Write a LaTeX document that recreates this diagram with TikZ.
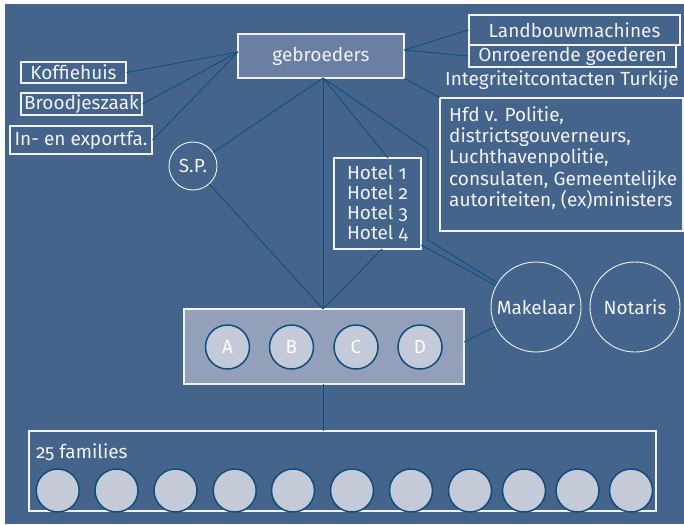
\documentclass[tikz,border=0pt]{standalone}
\usepackage{fontspec}
\setmainfont{Fira Sans}[RawFeature=+onum]
\definecolor{bgblue}{HTML}{44648C}
\definecolor{gebfill}{HTML}{6A7FA3}
\definecolor{abfill}{HTML}{93A0B9}
\definecolor{dotfill}{HTML}{C5CAD9}
\definecolor{conn}{HTML}{0E5082}
\definecolor{ring}{HTML}{0D4E7E}
\definecolor{txt}{HTML}{F2F2F2}
\tikzset{
  wbox/.style={draw=txt, line width=1.1pt, text=txt, inner sep=0pt, rectangle},
  wcirc/.style={draw=txt, line width=0.9pt, text=txt, inner sep=0pt, circle},
  dot/.style={circle, fill=dotfill, draw=ring, line width=1.5pt, minimum size=43pt, inner sep=0pt, text=white},
  lbl/.style={text=txt, inner sep=0pt},
  cn/.style={draw=conn, line width=0.9pt},
}
\begin{document}
\begin{tikzpicture}[x=1pt,y=-1pt, font=\fontsize{19}{21.4}\selectfont]
\useasboundingbox (0,0) rectangle (684,524);
\fill[white] (0,0) rectangle (684,524);
\fill[bgblue] (5,4) rectangle (684,524);
% top
\node[wbox, fill=gebfill, minimum width=166pt, minimum height=44pt] (geb) at (321,56) {gebroeders};
\node[wbox, minimum width=105pt, minimum height=21pt] (kof) at (73.5,72.5) {Koffiehuis};
\node[wbox, minimum width=121pt, minimum height=22pt] (bro) at (81.5,104) {Broodjeszaak};
\node[wbox, minimum width=142pt, minimum height=28pt] (exp) at (81,140) {In- en exportfa.};
\node[wbox, minimum width=211pt, minimum height=30pt] (lan) at (574.5,30) {Landbouwmachines};
\node[wbox, minimum width=207pt, minimum height=22pt] (onr) at (572.5,56) {Onroerende goederen};
\node[lbl, anchor=west] (int) at (445,80) {Integriteitcontacten Turkije};
\node[wbox, minimum width=243pt, minimum height=133pt] (hfd) at (561.5,164.5) {};
\node[lbl, anchor=north west, align=left] (hfdt) at (449,106) {Hfd v. Politie,\\districtsgouverneurs,\\Luchthavenpolitie,\\consulaten, Gemeentelijke\\autoriteiten, (ex)ministers};
\node[wcirc, minimum size=48pt] (sp) at (193,166) {S.P.};
\node[wbox, minimum width=87pt, minimum height=91pt] (hot) at (377.5,203.5) {};
\node[lbl, align=left, font=\fontsize{19}{20}\selectfont] (hott) at (377.5,203.5) {Hotel 1\\Hotel 2\\Hotel 3\\Hotel 4};
% middle
\node[wbox, fill=abfill, minimum width=280pt, minimum height=75pt] (abcd) at (324,346.5) {};
\node[dot, minimum size=44pt] (a) at (227.5,347) {A};
\node[dot, minimum size=44pt] (b) at (291.5,347) {B};
\node[dot, minimum size=44pt] (c) at (356,347) {C};
\node[dot, minimum size=44pt] (d) at (420,347) {D};
\node[wcirc, minimum size=90pt] (mak) at (536,307) {Makelaar};
\node[wcirc, minimum size=90pt] (not) at (635,307) {Notaris};
% families
\node[wbox, minimum width=627pt, minimum height=80pt] (fam) at (342.5,471) {};
\node[lbl, anchor=west] (famt) at (36,452) {25 families};
\foreach \i/\x in {1/57.7,2/116.5,3/175.5,4/234.7,5/293,6/352,7/411,8/470,9/524,10/577.5,11/631}
  \node[dot] (f\i) at (\x,490.5) {};
% connector points
\coordinate (gb) at (323,78);
\coordinate (gl) at (238,52);
\coordinate (gr) at (404,50);
\coordinate (ht) at (388,158);
\coordinate (hb) at (382,249);
\coordinate (hr) at (421,245);
\coordinate (b1) at (428,150);
\coordinate (b2) at (428,240);
\coordinate (at) at (323,309);
\coordinate (ab) at (323,384);
\coordinate (ft) at (323,431);
\coordinate (ae) at (464,342);
\draw[cn] (gl) -- (kof.east);
\draw[cn] (gl) -- (bro.east);
\draw[cn] (gl) -- (exp.east);
\draw[cn] (gr) -- (lan.west);
\draw[cn] (gr) -- (onr.west);
\draw[cn] (geb.south east) -- (hfd.north west);
\draw[cn] (gb) -- (sp);
\draw[cn] (sp) -- (at);
\draw[cn] (gb) -- (at);
\draw[cn] (gb) -- (ht);
\draw[cn] (hb) -- (at);
\draw[cn] (hr) -- (mak);
\draw[cn] (gb) -- (b1) -- (b2) -- (mak);
\draw[cn] (ae) -- (mak);
\draw[cn] (ab) -- (ft);
\end{tikzpicture}
\end{document}
